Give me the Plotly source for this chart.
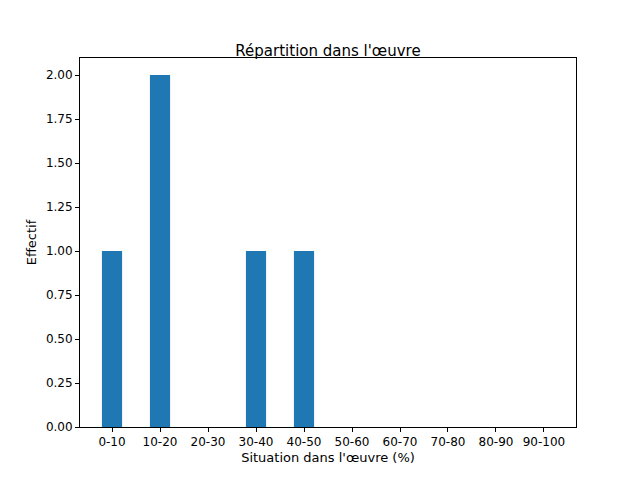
import plotly.graph_objects as go

categories = ["0-10","10-20","20-30","30-40","40-50","50-60","60-70","70-80","80-90","90-100"]
values = [1, 2, 0, 1, 1, 0, 0, 0, 0, 0]
yticks = [0, 0.25, 0.5, 0.75, 1.0, 1.25, 1.5, 1.75, 2.0]

fig = go.Figure(go.Bar(x=list(range(len(categories))), y=values, width=0.42,
                       marker=dict(color="#1f77b4", line=dict(width=0))))
fig.update_layout(
    width=640, height=480, plot_bgcolor="white", paper_bgcolor="white",
    margin=dict(l=72, r=72, t=50, b=61),
    font=dict(family="DejaVu Sans", size=12, color="black"),
    title=dict(text="Répartition dans l'œuvre", x=0.5, xanchor="center", y=0.91, yanchor="middle",
               font=dict(size=15)),
    showlegend=False,
)
fig.update_xaxes(range=[-0.667, 9.667], tickvals=list(range(len(categories))), ticktext=categories,
                 showgrid=False, zeroline=False, showline=True, linecolor="black", mirror=True,
                 ticks="outside", ticklen=4, tickcolor="black",
                 title=dict(text="Situation dans l'œuvre (%)", font=dict(size=13), standoff=4))
fig.update_yaxes(range=[0, 2.097], tickvals=yticks, ticktext=[f"{v:.2f}" for v in yticks],
                 showgrid=False, zeroline=False, showline=True, linecolor="black", mirror=True,
                 ticks="outside", ticklen=4, tickcolor="black",
                 title=dict(text="Effectif", font=dict(size=13), standoff=6))
fig.write_html("out.html")
